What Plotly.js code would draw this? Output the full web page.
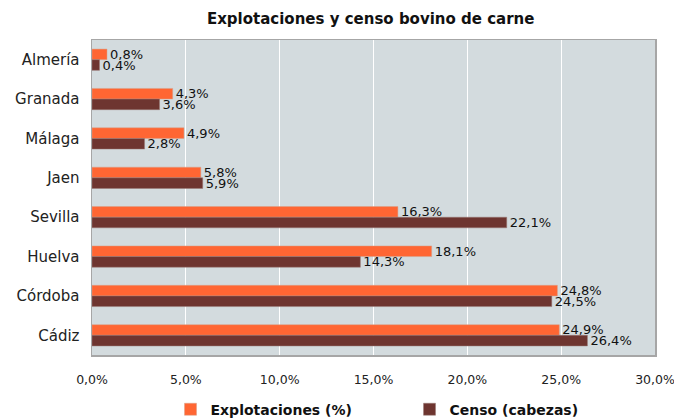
<!DOCTYPE html>
<html><head><meta charset="utf-8">
<script src="https://cdn.plot.ly/plotly-3.0.1.min.js"></script>
<style>body{margin:0;background:#fff}#c{width:674px;height:418px}</style>
</head><body><div id="c"></div>
<script>
const categories = ["Almería","Granada","Málaga","Jaen","Sevilla","Huelva","Córdoba","Cádiz"];
const explotaciones = [0.8, 4.3, 4.9, 5.8, 16.3, 18.1, 24.8, 24.9];
const censo = [0.4, 3.6, 2.8, 5.9, 22.1, 14.3, 24.5, 26.4];
const tickVals = [0, 5, 10, 15, 20, 25, 30];
const tickText = ["0,0%","5,0%","10,0%","15,0%","20,0%","25,0%","30,0%"];
const fmt = v => v.toFixed(1).replace('.', ',') + '%';
const labelFont = {family: "DejaVu Sans, sans-serif", size: 13, color: "#111"};
const traces = [
  {type:'bar', orientation:'h', name:'Explotaciones (%)', y:categories, x:explotaciones,
   marker:{color:'#ff6633', line:{color:'#d9a08a', width:0.5}}, text:explotaciones.map(fmt), textposition:'outside',
   textfont:labelFont, constraintext:'none', cliponaxis:false},
  {type:'bar', orientation:'h', name:'Censo (cabezas)', y:categories, x:censo,
   marker:{color:'#6e3530', line:{color:'#9a7a76', width:0.5}}, text:censo.map(fmt), textposition:'outside',
   textfont:labelFont, constraintext:'none', cliponaxis:false}
];
const layout = {
  width:674, height:418,
  margin:{l:92, r:19, t:40, b:63},
  paper_bgcolor:'#ffffff', plot_bgcolor:'#d3dbde',
  title:{text:'<b>Explotaciones y censo bovino de carne</b>', x:0.55, xanchor:'center', y:0.955, yanchor:'middle',
         font:{family:'DejaVu Sans, sans-serif', size:15, color:'#111'}},
  barmode:'group', bargap:0.46, bargroupgap:0,
  xaxis:{range:[0,30], tickvals:tickVals, ticktext:tickText, showgrid:true, gridcolor:'#ffffff', gridwidth:1,
         zeroline:false, showline:true, linecolor:'#a6a6a6', linewidth:1.5, mirror:true, ticks:'',
         ticklabeloverflow:'allow',
         tickfont:{family:'DejaVu Sans, sans-serif', size:12.5, color:'#222'}, ticklabelstandoff:12},
  yaxis:{autorange:'reversed', showgrid:false, showline:true, linecolor:'#a6a6a6', linewidth:1.5, mirror:true,
         ticks:'', tickfont:{family:'DejaVu Sans, sans-serif', size:15, color:'#222'}, ticklabelstandoff:8},
  showlegend:true,
  legend:{orientation:'h', x:0.253, xanchor:'left', xref:'container', y:0.02, yref:'container', yanchor:'middle',
          traceorder:'normal', itemwidth:30, entrywidth:194, bgcolor:'rgba(0,0,0,0)',
          font:{family:'DejaVu Sans, sans-serif', size:14, color:'#111', weight:'bold'}},
  font:{family:'DejaVu Sans, sans-serif'}
};
Plotly.newPlot('c', traces, layout, {displayModeBar:false, staticPlot:true});
</script></body></html>
